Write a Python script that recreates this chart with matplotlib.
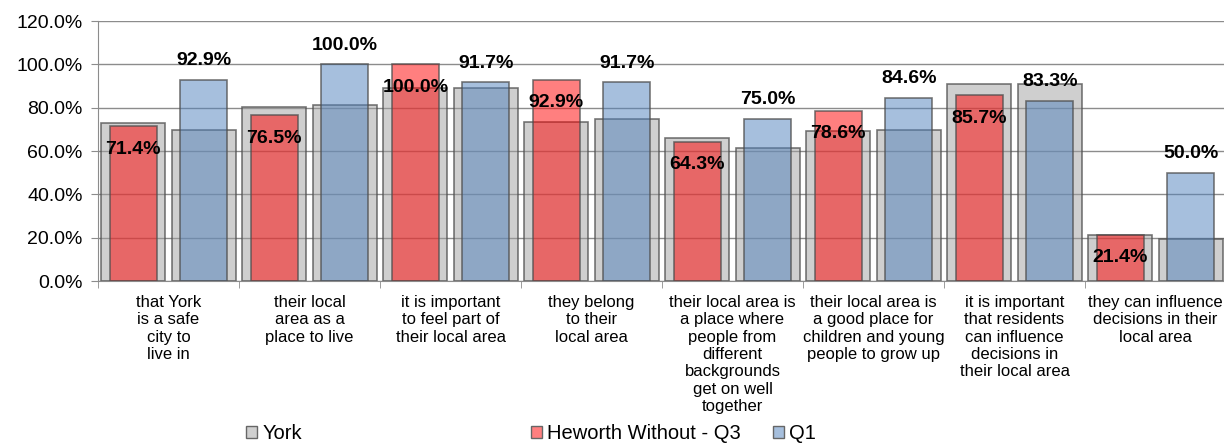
import numpy as np
import matplotlib.pyplot as plt
from matplotlib.patches import Patch

plt.rcParams['font.family'] = ['Liberation Sans', 'DejaVu Sans']

categories = [
    "that York\nis a safe\ncity to\nlive in",
    "their local\narea as a\nplace to live",
    "it is important\nto feel part of\ntheir local area",
    "they belong\nto their\nlocal area",
    "their local area is\na place where\npeople from\ndifferent\nbackgrounds\nget on well\ntogether",
    "their local area is\na good place for\nchildren and young\npeople to grow up",
    "it is important\nthat residents\ncan influence\ndecisions in\ntheir local area",
    "they can influence\ndecisions in their\nlocal area",
]
# York comparison bars (behind Heworth and behind Q1)
york_q3 = [73.1, 80.2, 88.9, 73.2, 66.0, 69.2, 90.8, 21.1]
york_q1 = [69.7, 81.4, 88.9, 74.9, 61.5, 69.7, 90.8, 19.5]
heworth = [71.4, 76.5, 100.0, 92.9, 64.3, 78.6, 85.7, 21.4]
q1 = [92.9, 100.0, 91.7, 91.7, 75.0, 84.6, 83.3, 50.0]

fig = plt.figure(figsize=(12.24, 4.44), dpi=100)
ax = fig.add_axes([98 / 1224, 163 / 444, 1128 / 1224, 260 / 444])

x = np.arange(len(categories))
off = 0.25
grey = (0.63, 0.63, 0.63, 0.5)
red = (1.0, 0.0, 0.0, 0.5)
blue = (0x4F / 255, 0x81 / 255, 0xBD / 255, 0.5)
edge = (0.3, 0.3, 0.3, 0.75)

ax.grid(axis='y', color='#8c8c8c', linewidth=1)
ax.set_axisbelow(True)

ax.bar(x - off, york_q3, 0.455, color=grey, edgecolor=edge, linewidth=1.2)
ax.bar(x + off, york_q1, 0.455, color=grey, edgecolor=edge, linewidth=1.2)
ax.bar(x - off, heworth, 0.333, color=red, edgecolor=edge, linewidth=1.2)
ax.bar(x + off, q1, 0.333, color=blue, edgecolor=edge, linewidth=1.2)

for xi, v in zip(x, heworth):
    ax.annotate(f"{v:.1f}%", (xi - off, v), xytext=(0, -16.5), textcoords='offset points',
                ha='center', va='center', fontsize=14, fontweight='bold', annotation_clip=False)
for xi, v in zip(x, q1):
    ax.annotate(f"{v:.1f}%", (xi + off, v), xytext=(0, 13.7), textcoords='offset points',
                ha='center', va='center', fontsize=14, fontweight='bold', annotation_clip=False)

ax.set_ylim(0, 120)
ax.set_xlim(-0.5, len(categories) - 0.5)
ax.set_yticks(np.arange(0, 121, 20))
ax.set_yticklabels([f"{t:.1f}%" for t in np.arange(0, 121, 20)], fontsize=14)
ax.tick_params(axis='y', length=5, color='#8c8c8c', pad=6)

ax.set_xticks(x)
ax.set_xticklabels(categories, fontsize=12, linespacing=1.2, va='top')
ax.set_xticks(np.arange(-0.5, len(categories), 1), minor=True)
ax.tick_params(axis='x', which='major', length=0, pad=10)
ax.tick_params(axis='x', which='minor', length=5, color='#8c8c8c')

for s in ['top', 'right']:
    ax.spines[s].set_visible(False)
for s in ['left', 'bottom']:
    ax.spines[s].set_color('#8c8c8c')

names = ["York", "Heworth Without - Q3", "Q1"]
cols = [grey, red, blue]
xs = [246, 531, 773]
for name, c, xp in zip(names, cols, xs):
    fig.legend(handles=[Patch(facecolor=c, edgecolor=(0.4, 0.4, 0.4))], labels=[name],
               loc='center left', bbox_to_anchor=(xp / 1224, 10.5 / 444), frameon=False,
               fontsize=14.5, handlelength=0.55, handleheight=0.55, handletextpad=0.25,
               borderpad=0, borderaxespad=0)

fig.savefig('out.png', dpi=100)
